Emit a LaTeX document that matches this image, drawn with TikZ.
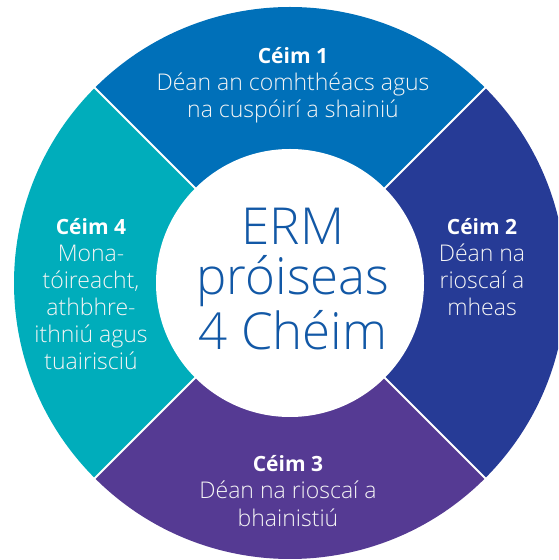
\documentclass[tikz,border=0pt]{standalone}
\usepackage{fontspec}
\setmainfont{Open Sans}
\newfontfamily\lightfont{Open Sans Light}
\definecolor{cone}{RGB}{0,112,185}
\definecolor{ctwo}{RGB}{38,59,150}
\definecolor{cthree}{RGB}{85,58,147}
\definecolor{cfour}{RGB}{0,173,187}
\definecolor{ctext}{RGB}{18,88,166}
\tikzset{
  divider/.style={draw=white, line width=2pt},
  head/.style={anchor=base, inner sep=0pt, text=white, font=\bfseries\fontsize{21}{27}\selectfont},
  body/.style={anchor=base, inner sep=0pt, text=white!92!gray, font=\lightfont\fontsize{23}{27}\selectfont},
  big/.style={anchor=base, inner sep=0pt, text=ctext, font=\lightfont\fontsize{51}{53}\selectfont}
}
\begin{document}
\begin{tikzpicture}[x=1pt,y=1pt]
\useasboundingbox (0,0) rectangle (558,560);
\clip (0,0) rectangle (558,560);
\coordinate (C) at (290,277);
\fill[cone]   (C) -- ++(45:276)  arc[start angle=45,  end angle=135, radius=276] -- cycle;
\fill[ctwo]   (C) -- ++(-45:276) arc[start angle=-45, end angle=45,  radius=276] -- cycle;
\fill[cthree] (C) -- ++(-135:276) arc[start angle=-135, end angle=-45, radius=276] -- cycle;
\fill[cfour]  (C) -- ++(135:276) arc[start angle=135, end angle=225, radius=276] -- cycle;
\foreach \a/\n in {45/da,135/db,225/dc,315/dd} {
  \coordinate (\n) at ([shift={(\a:278)}]C);
  \draw[divider] (C) -- (\n);
}
\node[circle, fill=white, minimum size=268pt, inner sep=0pt] (hub) at (C) {};
% centre text
\node[big] (t1) at (293,315) {ERM};
\node[big] (t2) at (293,265) {próiseas};
\node[big] (t3) at (293,210) {4 Chéim};
% step 1
\node[head] (s1h) at (293,496) {Céim 1};
\node[body] (s1a) at (293,469) {Déan an comhthéacs agus};
\node[body] (s1b) at (293,442) {na cuspóirí a shainiú};
% step 2
\node[head] (s2h) at (482,325) {Céim 2};
\node[body] (s2a) at (482,298) {Déan na};
\node[body] (s2b) at (482,271) {rioscaí a};
\node[body] (s2c) at (482,244) {mheas};
% step 3
\node[head] (s3h) at (288,88) {Céim 3};
\node[body] (s3a) at (288,61) {Déan na rioscaí a};
\node[body] (s3b) at (288,34) {bhainistiú};
% step 4
\node[head] (s4h) at (91,325) {Céim 4};
\node[body] (s4a) at (91,298) {Mona-};
\node[body] (s4b) at (91,271) {tóireacht,};
\node[body] (s4c) at (91,244) {athbhre-};
\node[body] (s4d) at (91,217) {ithniú agus};
\node[body] (s4e) at (91,190) {tuairisciú};
\end{tikzpicture}
\end{document}
